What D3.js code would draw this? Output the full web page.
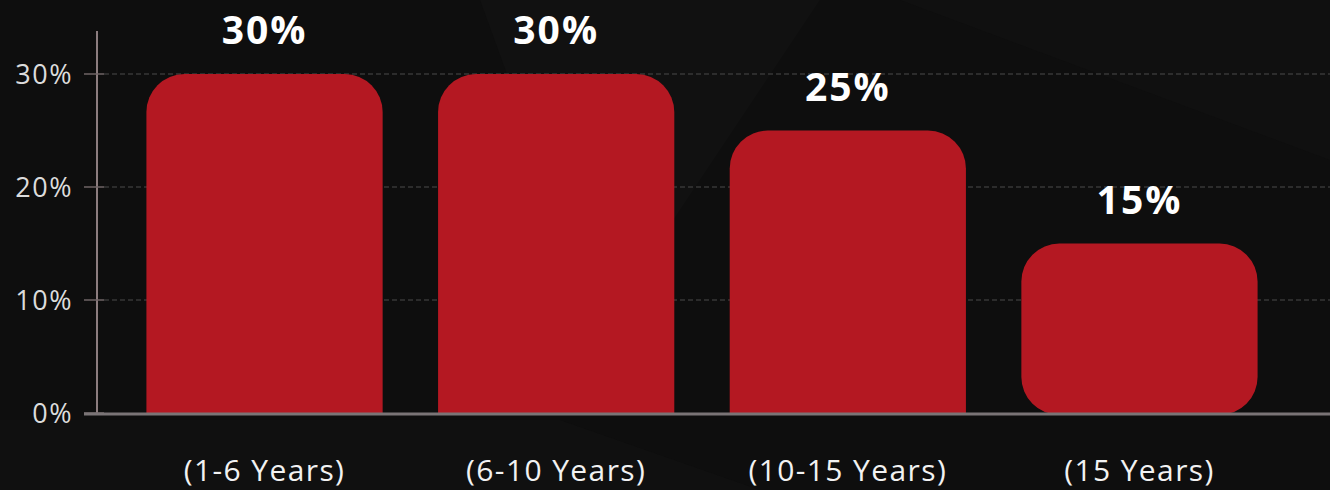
<!DOCTYPE html>
<html>
<head>
<meta charset="utf-8">
<script src="https://cdn.jsdelivr.net/npm/d3@7"></script>
<style>
  html, body { margin: 0; padding: 0; background: #0e0e0e; }
  svg { display: block; }
  .tick-label { font-family: "Open Sans", sans-serif; fill: #dcdcdc; font-size: 27px; letter-spacing: 1.5px; }
  .cat-label { font-family: "Open Sans", sans-serif; fill: #f2f2f2; font-size: 30px; letter-spacing: 1.4px; }
  .val-label { font-family: "Open Sans", sans-serif; font-weight: 700; fill: #ffffff; font-size: 39px; letter-spacing: 2px; }
</style>
</head>
<body>
<svg id="chart" width="1330" height="490"></svg>
<script>
// chart data
var categories = ["(1-6 Years)", "(6-10 Years)", "(10-15 Years)", "(15 Years)"];
var values = [30, 30, 25, 15];
var yTicks = [0, 10, 20, 30];

var width = 1330, height = 490;
var svg = d3.select("#chart");

// faint background shapes
svg.append("rect").attr("width", width).attr("height", height).attr("fill", "#0e0e0e");
svg.append("path").attr("d", "M480,0 L820,0 L600,330 Z").attr("fill", "#111111");
svg.append("path").attr("d", "M900,0 L1330,0 L1330,160 Z").attr("fill", "#101010");
svg.append("path").attr("d", "M0,420 L560,420 L760,490 L0,490 Z").attr("fill", "#101010");

var x = d3.scaleBand()
    .domain(categories)
    .range([91, 1313])
    .padding(0.19);

var y = d3.scaleLinear()
    .domain([0, 30])
    .range([413, 74]);

// grid lines
svg.selectAll(".grid")
    .data(yTicks.filter(function(d) { return d > 0; }))
    .enter().append("line")
    .attr("class", "grid")
    .attr("x1", 104).attr("x2", width)
    .attr("y1", function(d) { return y(d); })
    .attr("y2", function(d) { return y(d); })
    .attr("stroke", "#4a4a4a")
    .attr("stroke-width", 1.2)
    .attr("stroke-dasharray", "5,3");

// y axis line + ticks
svg.append("line")
    .attr("x1", 97).attr("x2", 97)
    .attr("y1", 31).attr("y2", 413)
    .attr("stroke", "#8c7d7f").attr("stroke-width", 2);

svg.selectAll(".ytick")
    .data(yTicks)
    .enter().append("line")
    .attr("x1", 84).attr("x2", 104)
    .attr("y1", function(d) { return y(d); })
    .attr("y2", function(d) { return y(d); })
    .attr("stroke", "#6f6466").attr("stroke-width", 1.5);

svg.selectAll(".tick-label")
    .data(yTicks)
    .enter().append("text")
    .attr("class", "tick-label")
    .attr("x", 73)
    .attr("y", function(d) { return y(d); })
    .attr("dy", "0.36em")
    .attr("text-anchor", "end")
    .text(function(d) { return d + "%"; });

// bars, top corners rounded; the last one rounded all round
var r = 38;
function barPath(d, i) {
  var x0 = x(categories[i]), w = x.bandwidth(), top = y(d), bot = y(0);
  var last = i === values.length - 1;
  var p = "M" + x0 + "," + (last ? bot - r : bot) +
    " L" + x0 + "," + (top + r) +
    " A" + r + "," + r + " 0 0 1 " + (x0 + r) + "," + top +
    " L" + (x0 + w - r) + "," + top +
    " A" + r + "," + r + " 0 0 1 " + (x0 + w) + "," + (top + r);
  if (last) {
    p += " L" + (x0 + w) + "," + (bot - r + 2) +
      " A" + r + "," + r + " 0 0 1 " + (x0 + w - r) + "," + (bot + 2) +
      " L" + (x0 + r) + "," + (bot + 2) +
      " A" + r + "," + r + " 0 0 1 " + x0 + "," + (bot - r + 2);
  } else {
    p += " L" + (x0 + w) + "," + bot;
  }
  return p + " Z";
}

svg.selectAll(".bar")
    .data(values)
    .enter().append("path")
    .attr("class", "bar")
    .attr("d", barPath)
    .attr("fill", "#b41822");

// baseline
svg.append("line")
    .attr("x1", 84).attr("x2", width)
    .attr("y1", 414).attr("y2", 414)
    .attr("stroke", "#7a7476").attr("stroke-width", 3);

// value labels
svg.selectAll(".val-label")
    .data(values)
    .enter().append("text")
    .attr("class", "val-label")
    .attr("x", function(d, i) { return x(categories[i]) + x.bandwidth() / 2; })
    .attr("y", function(d) { return y(d) - 30; })
    .attr("text-anchor", "middle")
    .text(function(d) { return d + "%"; });

// category labels
svg.selectAll(".cat-label")
    .data(categories)
    .enter().append("text")
    .attr("class", "cat-label")
    .attr("x", function(d) { return x(d) + x.bandwidth() / 2; })
    .attr("y", 481)
    .attr("text-anchor", "middle")
    .text(function(d) { return d; });
</script>
</body>
</html>
